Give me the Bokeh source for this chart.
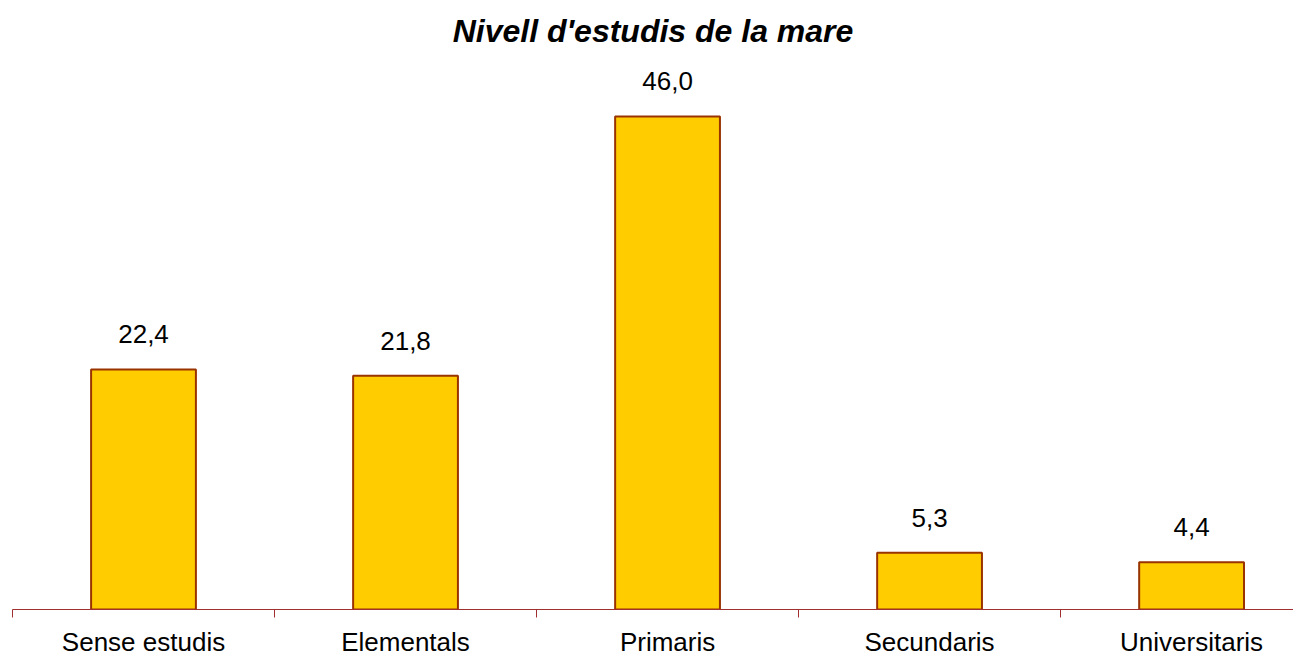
from bokeh.plotting import figure
from bokeh.models import ColumnDataSource, FixedTicker, Range1d, LinearAxis
from bokeh.core.properties import value
from bokeh.embed import file_html
from bokeh.resources import INLINE

categories = ["Sense estudis", "Elementals", "Primaris", "Secundaris", "Universitaris"]
values = [22.4, 21.8, 46.0, 5.3, 4.4]

xs = [i + 0.5 for i in range(len(categories))]
labels = [f"{v:.1f}".replace(".", ",") for v in values]
src = ColumnDataSource(dict(x=xs, top=values, lab=labels))

FONT = "Liberation Sans"

p = figure(width=1293, height=659, output_backend="svg", toolbar_location=None,
           x_range=Range1d(0, 4.889), y_range=Range1d(0, 51.4),
           min_border_left=12, min_border_right=0, min_border_top=0, min_border_bottom=0,
           x_axis_location=None, y_axis_location=None)
p.title.text = "Nivell d'estudis de la mare"
p.title.align = "center"
p.title.text_font = FONT
p.title.text_font_size = "32px"
p.title.text_font_style = "bold italic"
p.title.text_color = "black"
p.title.standoff = 20
p.outline_line_color = None
p.xgrid.visible = False
p.ygrid.visible = False

p.vbar(x="x", top="top", width=0.4, bottom=0, source=src,
       fill_color="#FFCC00", line_color="#993300", line_width=2)
p.text(x="x", y="top", text="lab", source=src, y_offset=-35,
       text_align="center", text_baseline="alphabetic",
       text_font=value(FONT), text_font_size="26px", text_color="black")

ax = LinearAxis(ticker=FixedTicker(ticks=xs, minor_ticks=[0, 1, 2, 3, 4]))
ax.major_label_overrides = {x: c for x, c in zip(xs, categories)}
ax.major_tick_out = 0
ax.major_tick_in = 0
ax.minor_tick_out = 8
ax.minor_tick_in = 0
ax.minor_tick_line_color = "#A03030"
ax.axis_line_color = "#A03030"
ax.axis_line_width = 1
ax.major_label_standoff = 9
ax.major_label_text_font = FONT
ax.major_label_text_font_size = "26px"
ax.major_label_text_color = "black"
p.add_layout(ax, "below")

open("out.html", "w").write(file_html(p, INLINE))
